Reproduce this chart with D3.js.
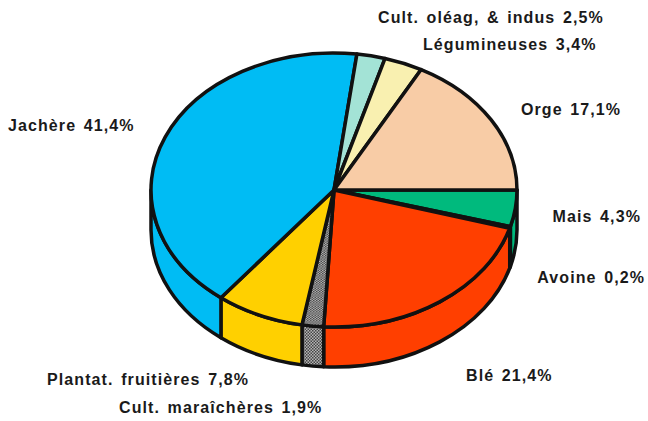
<!DOCTYPE html>
<html>
<head>
<meta charset="utf-8">
<script src="https://cdn.jsdelivr.net/npm/d3@7"></script>
<style>
  html, body { margin: 0; padding: 0; background: #fff; }
  svg { display: block; }
  text { font-family: "Liberation Sans", Arial, sans-serif; font-weight: bold; font-size: 16px; letter-spacing: 1.1px; word-spacing: 2px; fill: #1a1a1a; }
</style>
</head>
<body>
<svg id="chart" width="648" height="421"></svg>
<script>
// clockwise from the east side of the pie
const categories = ["Mais", "Avoine", "Blé", "Cult. maraîchères", "Plantat. fruitières", "Jachère", "Cult. oléag, & indus", "Légumineuses", "Orge"];
const shares = [4.3, 0.2, 21.4, 1.9, 7.8, 41.4, 2.5, 3.4, 17.1];
const colors = ["#00ba7d", "#00a26c", "#ff3f00", "url(#dots)", "#ffd000", "#00bcf4", "#a3e3d6", "#f9f0b0", "#f8cca6"];

// label anchors, same order as categories
const labelX = [641, 645, 466, 119, 47, 8, 378, 423, 521];
const labelY = [222, 283, 381, 413, 385, 131, 23, 50, 115];

const width = 648, height = 421;
const cx = 334, cy = 190, rx = 183, ry = 137, depth = 40;

const svg = d3.select("#chart");

const dots = svg.append("defs").append("pattern")
  .attr("id", "dots").attr("width", 3).attr("height", 3)
  .attr("patternUnits", "userSpaceOnUse");
dots.append("rect").attr("width", 3).attr("height", 3).attr("fill", "#b5b5b5");
dots.append("rect").attr("width", 1.5).attr("height", 1.5).attr("fill", "#444");
dots.append("rect").attr("x", 1.5).attr("y", 1.5).attr("width", 1.5).attr("height", 1.5).attr("fill", "#444");

const pie = d3.pie().sort(null).value(d => d)
  .startAngle(Math.PI / 2).endAngle(Math.PI / 2 + 2 * Math.PI);
const slices = pie(shares);

// d3 angles: 0 at north, clockwise
const px = a => cx + rx * Math.sin(a);
const py = a => cy - ry * Math.cos(a);

// the front wall only shows between east and west
const wallPath = d => {
  const a0 = Math.max(d.startAngle, Math.PI / 2);
  const a1 = Math.min(d.endAngle, 3 * Math.PI / 2);
  if (a1 <= a0) return null;
  return `M${px(a0)},${py(a0)}A${rx},${ry} 0 0 1 ${px(a1)},${py(a1)}` +
    `L${px(a1)},${py(a1) + depth}A${rx},${ry} 0 0 0 ${px(a0)},${py(a0) + depth}Z`;
};

svg.append("g").selectAll("path")
  .data(slices.filter(d => wallPath(d)))
  .enter().append("path")
  .attr("d", wallPath)
  .attr("fill", d => colors[d.index])
  .attr("stroke", "#111")
  .attr("stroke-width", 3.5)
  .attr("stroke-linejoin", "round");

// top face: a round d3 arc squashed into an ellipse
const arc = d3.arc().innerRadius(0).outerRadius(rx);
svg.append("g")
  .attr("transform", `translate(${cx},${cy}) scale(1,${ry / rx})`)
  .selectAll("path")
  .data(slices)
  .enter().append("path")
  .attr("d", arc)
  .attr("fill", d => colors[d.index])
  .attr("stroke", "#111")
  .attr("stroke-width", 3.5)
  .attr("stroke-linejoin", "round")
  .attr("vector-effect", "non-scaling-stroke");

const pct = d3.format(".1f");
svg.append("g").selectAll("text")
  .data(categories)
  .enter().append("text")
  .attr("x", (d, i) => labelX[i])
  .attr("y", (d, i) => labelY[i])
  .attr("text-anchor", (d, i) => i < 2 ? "end" : "start")
  .text((d, i) => `${d} ${pct(shares[i]).replace(".", ",")}%`);
</script>
</body>
</html>
